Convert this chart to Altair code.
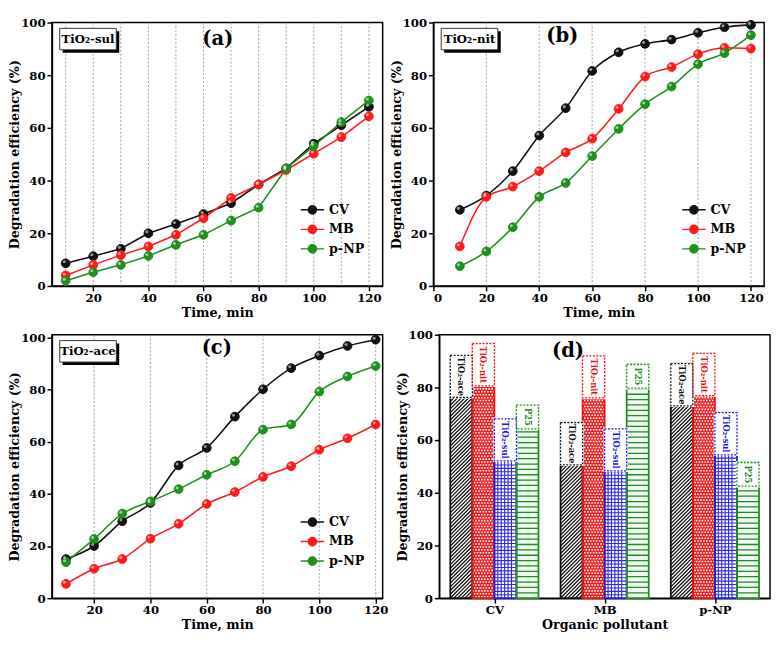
import altair as alt
import pandas as pd

# ---------------- data ----------------
minutes = [10, 20, 30, 40, 50, 60, 70, 80, 90, 100, 110, 120]
series_names = ["CV", "MB", "p-NP"]
series_colors = ["#111111", "#ff1a1a", "#1f8f1f"]

sul_cv = [8.6, 11.3, 14.1, 20.0, 23.5, 27.3, 31.4, 38.5, 44.6, 54.0, 61.0, 68.0]
sul_mb = [4.0, 8.0, 11.7, 15.0, 19.4, 25.7, 33.4, 38.5, 44.0, 50.2, 56.5, 64.4]
sul_pnp = [2.0, 5.2, 8.0, 11.4, 15.6, 19.4, 24.8, 29.7, 44.6, 53.1, 62.2, 70.4]

nit_cv = [28.9, 34.3, 43.6, 57.1, 67.5, 81.6, 88.7, 91.9, 93.5, 96.1, 98.2, 99.1]
nit_mb = [15.0, 33.8, 37.7, 43.6, 50.7, 55.9, 67.2, 79.5, 83.1, 88.0, 90.4, 90.1]
nit_pnp = [7.5, 13.1, 22.3, 33.8, 39.1, 49.3, 59.6, 69.0, 75.7, 84.2, 88.4, 95.2]

ace_cv = [15.0, 20.0, 29.5, 36.5, 50.9, 57.6, 69.6, 80.1, 88.2, 93.0, 96.7, 99.1]
ace_mb = [5.5, 11.3, 15.0, 22.8, 28.5, 36.1, 40.7, 46.5, 50.6, 56.9, 61.3, 66.6]
ace_pnp = [13.8, 22.7, 32.4, 37.1, 41.8, 47.3, 52.5, 64.6, 66.6, 79.2, 85.0, 89.0]

pollutants = ["CV", "MB", "p-NP"]
catalysts = ["TiO₂-ace", "TiO₂-nit", "TiO₂-sul", "P25"]
cat_colors = ["#111111", "#ee1111", "#1a1ae6", "#1e8c1e"]
eff_ace = [92.2, 66.6, 89.0]
eff_nit = [96.6, 92.0, 92.9]
eff_sul = [68.1, 64.3, 70.4]
eff_p25 = [73.3, 88.7, 51.5]

# ---------------- style ----------------
FONT = "DejaVu Serif"
PW, PH = 339, 270
YVALS = [0, 20, 40, 60, 80, 100]
LEG_PATH = "M-2,0L-0.7,0M0.7,0L2,0M-0.7,0A0.7,0.7,0,1,1,0.7,0A0.7,0.7,0,1,1,-0.7,0Z"


def yaxis():
    return alt.Axis(values=YVALS, title="Degradation efficiency (%)", titleX=-31)


def annotations(tag, letter, lx, ly):
    one = pd.DataFrame({"tag": [tag], "letter": [letter]})
    layers = []
    if tag:
        layers.append(alt.Chart(one).mark_rect(color="black").encode(
            x=alt.value(11), x2=alt.value(69), y=alt.value(9), y2=alt.value(31)))
        layers.append(alt.Chart(one).mark_rect(fill="white", stroke="#333", strokeWidth=1).encode(
            x=alt.value(8), x2=alt.value(66), y=alt.value(6), y2=alt.value(28)))
        layers.append(alt.Chart(one).mark_text(font=FONT, fontWeight="bold", fontSize=12,
                                               color="black").encode(
            x=alt.value(37), y=alt.value(17), text="tag:N"))
    layers.append(alt.Chart(one).mark_text(font=FONT, fontWeight="bold", fontSize=20,
                                           color="black").encode(
        x=alt.value(lx), y=alt.value(ly), text="letter:N"))
    return layers


def line_panel(cv, mb, pnp, tag, letter, xdom, xvals, gridvals, interp, ydom, lx, ly):
    df = pd.DataFrame({
        "t": minutes * 3,
        "eff": cv + mb + pnp,
        "series": [series_names[0]] * len(minutes) + [series_names[1]] * len(minutes)
        + [series_names[2]] * len(minutes),
    })
    xs = alt.Scale(domain=xdom, nice=False, zero=False)
    ys = alt.Scale(domain=ydom, nice=False, zero=False)
    X = alt.X("t:Q", scale=xs, axis=alt.Axis(values=xvals, title="Time, min", format="d"))
    Y = alt.Y("eff:Q", scale=ys, axis=yaxis())
    cscale = alt.Scale(domain=series_names, range=series_colors)
    leg = alt.Legend(title=None, orient="none", legendX=260, legendY=185,
                     symbolType=LEG_PATH, symbolSize=144, symbolStrokeWidth=1.5,
                     labelFont=FONT, labelFontWeight="bold", labelFontSize=13,
                     labelColor="black", labelOffset=10, rowPadding=4, padding=0)
    grid = alt.Chart(pd.DataFrame({"t": gridvals})).mark_rule(
        color="#8a8a8a", strokeDash=[2, 2], strokeWidth=0.8).encode(x=X)
    base = alt.Chart(df)
    line = base.mark_line(interpolate=interp, strokeWidth=1.6).encode(
        x=X, y=Y, stroke=alt.Stroke("series:N", scale=cscale, legend=leg), detail="series:N")
    pts = base.mark_point(filled=True, size=80, strokeWidth=1, opacity=1).encode(
        x=X, y=Y,
        fill=alt.Fill("series:N", scale=cscale, legend=leg),
        stroke=alt.Stroke("series:N", scale=cscale, legend=leg))
    shine = base.mark_circle(size=10, color="white", opacity=0.55, xOffset=-1.5, yOffset=-1.5).encode(
        x=X, y=Y)
    return alt.layer(grid, line, pts, shine, *annotations(tag, letter, lx, ly)).properties(
        width=PW, height=PH)


# ---------------- bar panel (d) ----------------
BAR_W = 0.2
PXX = PW / 3.0
PXY = PH / 100.0
bars, diag, dots_a, dots_b, blue_h, blue_v, green_h = [], [], [], [], [], [], []
vals_by_cat = [eff_ace, eff_nit, eff_sul, eff_p25]
fills = ["white", "#f01e1e", "white", "#f1f8f1"]
for i, p in enumerate(pollutants):
    for k, cat in enumerate(catalysts):
        v = vals_by_cat[k][i]
        xa = i + 1 + (k - 2) * BAR_W
        xb = xa + BAR_W
        boxh = 9.0 if cat == "P25" else 16.0
        bars.append(dict(xa=xa, xb=xb, ya=0.0, yb=v, ybox=v - boxh, ymid=v - boxh / 2,
                         xm=(xa + xb) / 2, name=cat, col=cat_colors[k], fillcol=fills[k]))
        if k == 0:
            dy = BAR_W * PXX / PXY
            step = 3.8 / PXY
            y0 = -dy
            while y0 <= v - dy:
                diag.append(dict(xa=xa, xb=xb, ya=y0, yb=y0 + dy))
                y0 += step
        elif k == 1:
            step = 3.0 / PXY
            y0 = step / 2
            n = 0
            while y0 < v:
                (dots_a if n % 2 == 0 else dots_b).append(dict(xa=xa, xb=xb, ya=y0, yb=y0))
                y0 += step
                n += 1
        elif k == 2:
            step = 3.5 / PXY
            y0 = step
            while y0 < v:
                blue_h.append(dict(xa=xa, xb=xb, ya=y0, yb=y0))
                y0 += step
            sx = 3.5 / PXX
            x0 = xa + sx
            while x0 < xb - sx / 2:
                blue_v.append(dict(xa=x0, xb=x0, ya=0.0, yb=v))
                x0 += sx
        else:
            step = 5.5 / PXY
            y0 = step
            while y0 < v:
                green_h.append(dict(xa=xa, xb=xb, ya=y0, yb=y0))
                y0 += step

dxs = alt.Scale(domain=[0.5, 3.5], nice=False, zero=False)
dys = alt.Scale(domain=[0, 100], nice=False, zero=False)
label_expr = "[" + ",".join("'" + p + "'" for p in pollutants) + "][datum.value - 1]"
dxaxis = alt.Axis(values=[1, 2, 3], labelExpr=label_expr, title="Organic pollutant")


def DX(f):
    return alt.X(f + ":Q", scale=dxs, axis=dxaxis)


def DY(f):
    return alt.Y(f + ":Q", scale=dys, axis=yaxis())


bars_df = pd.DataFrame(bars)


def rules(rows, **kw):
    return alt.Chart(pd.DataFrame(rows)).mark_rule(clip=True, **kw).encode(
        x=DX("xa"), x2="xb", y=DY("ya"), y2="yb")


d_layers = [
    alt.Chart(bars_df).mark_rect(strokeWidth=0).encode(
        x=DX("xa"), x2="xb", y=DY("ya"), y2="yb", fill=alt.Fill("fillcol:N", scale=None)),
    rules(diag, color="#111111", strokeWidth=1.3),
    rules(dots_a, color="white", strokeWidth=1.6, strokeDash=[1.6, 1.4]),
    rules(dots_b, color="white", strokeWidth=1.6, strokeDash=[1.6, 1.4], strokeDashOffset=1.5),
    rules(blue_h, color="#2a2ae0", strokeWidth=1.1),
    rules(blue_v, color="#2a2ae0", strokeWidth=1.1),
    rules(green_h, color="#1e8c1e", strokeWidth=1.3),
    alt.Chart(bars_df).mark_rect(fillOpacity=0, strokeWidth=1.8).encode(
        x=DX("xa"), x2="xb", y=DY("ya"), y2="yb", stroke=alt.Stroke("col:N", scale=None)),
    alt.Chart(bars_df).mark_rect(fill="white", stroke="white", strokeWidth=2.4).encode(
        x=DX("xa"), x2="xb", y=DY("ybox"), y2="yb"),
    alt.Chart(bars_df).mark_rect(fillOpacity=0, strokeWidth=1.3, strokeDash=[2, 1.5]).encode(
        x=DX("xa"), x2="xb", y=DY("ybox"), y2="yb", stroke=alt.Stroke("col:N", scale=None)),
    alt.Chart(bars_df).mark_text(angle=90, font=FONT, fontWeight="bold", fontSize=8.5).encode(
        x=DX("xm"), y=DY("ymid"), text="name:N", color=alt.Color("col:N", scale=None)),
]
panel_d = alt.layer(*d_layers, *annotations("", "(d)", 132, 17)).properties(width=PW, height=PH)

panel_a = line_panel(sul_cv, sul_mb, sul_pnp, "TiO₂-sul", "(a)", [5, 125],
                     [20, 40, 60, 80, 100, 120], minutes, "linear", [0, 100], 170, 17)
panel_b = line_panel(nit_cv, nit_mb, nit_pnp, "TiO₂-nit", "(b)", [0, 125],
                     [0, 20, 40, 60, 80, 100, 120], [20, 40, 60, 80, 100, 120], "monotone",
                     [0, 100], 132, 14)
panel_c = line_panel(ace_cv, ace_mb, ace_pnp, "TiO₂-ace", "(c)", [5, 122.5],
                     [20, 40, 60, 80, 100, 120], [20, 40, 60, 80, 100, 120], "monotone",
                     [0, 101], 169, 14)


def indep(ch):
    return ch.resolve_scale(fill="independent", stroke="independent").resolve_legend(
        fill="independent", stroke="independent")


top = indep(alt.hconcat(panel_a, panel_b, spacing=6))
bottom = indep(alt.hconcat(panel_c, panel_d, spacing=6))
chart = indep(alt.vconcat(top, bottom, spacing=8)).properties(padding=0)

chart = chart.configure(font=FONT).configure_axis(
    labelFont=FONT, labelFontSize=12, labelFontWeight="bold", labelColor="black",
    titleFont=FONT, titleFontSize=13, titleFontWeight="bold", titleColor="black",
    domainColor="black", domainWidth=1.5, tickColor="black", tickWidth=1.5, tickSize=5,
    labelPadding=2, titlePadding=3, grid=False,
).configure_view(stroke="black", strokeWidth=1.5)

chart.save("out.html", embed_options={"renderer": "svg", "actions": False})
